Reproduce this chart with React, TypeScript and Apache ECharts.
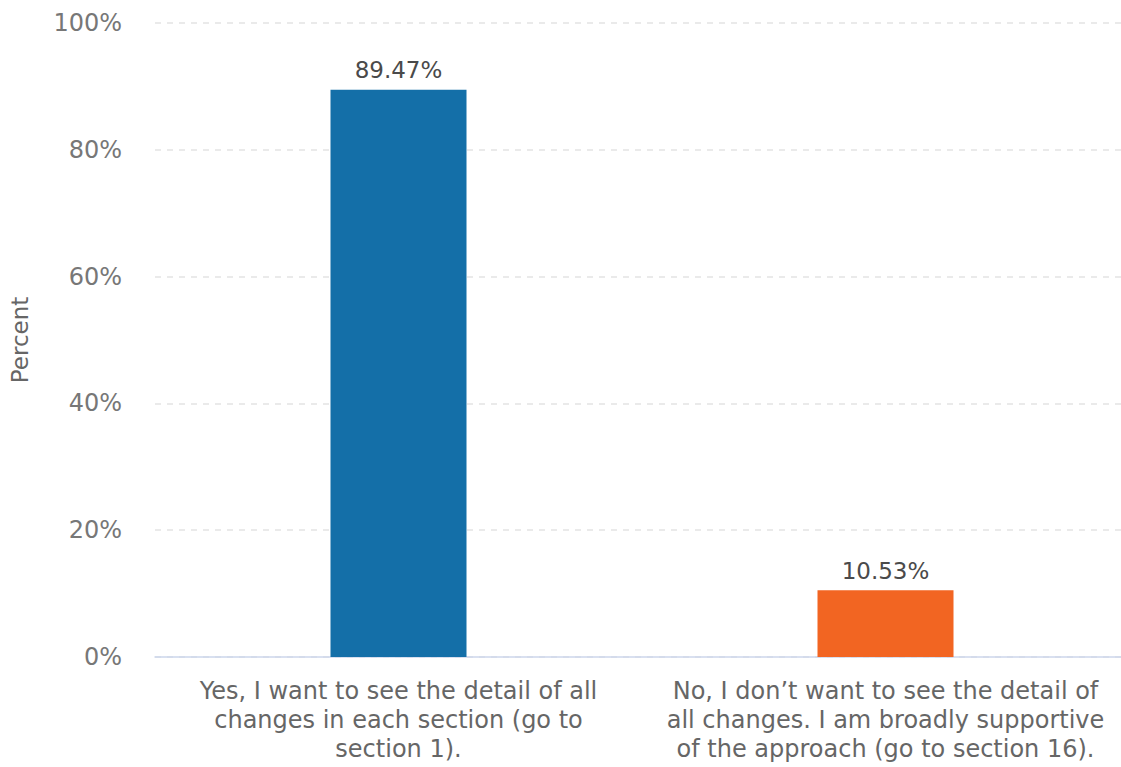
import React, { useEffect, useRef } from "react";
import * as echarts from "echarts";

const categories = [
  "Yes, I want to see the detail of all\nchanges in each section (go to\nsection 1).",
  "No, I don’t want to see the detail of\nall changes. I am broadly supportive\nof the approach (go to section 16).",
];
const values = [89.47, 10.53];
const barColors = ["#146fa8", "#f26522"];
const yTicks = [0, 20, 40, 60, 80, 100];

export default function App() {
  const ref = useRef<HTMLDivElement>(null);
  useEffect(() => {
    const chart = echarts.init(ref.current!, null, { renderer: "svg" });
    chart.setOption({
      animation: false,
      textStyle: { fontFamily: "DejaVu Sans" },
      grid: { left: 145, width: 984, top: 23, bottom: 110, containLabel: false },
      xAxis: {
        type: "category",
        data: categories,
        axisLine: { lineStyle: { color: "#ccd6eb", width: 1.5 } },
        axisTick: { show: false },
        axisLabel: {
          color: "#666",
          fontSize: 24,
          lineHeight: 29,
          margin: 19,
          interval: 0,
          fontFamily: "DejaVu Sans",
        },
      },
      yAxis: {
        type: "value",
        min: yTicks[0],
        max: yTicks[yTicks.length - 1],
        interval: 20,
        name: "Percent",
        nameLocation: "middle",
        nameGap: 124,
        nameTextStyle: { color: "#666", fontSize: 23, fontFamily: "DejaVu Sans" },
        axisLabel: {
          formatter: "{value}%",
          color: "#777",
          fontSize: 24,
          margin: 33,
          fontFamily: "DejaVu Sans",
        },
        splitLine: { lineStyle: { color: "#e3e3e3", type: [6, 6], width: 1.5 } },
        axisLine: { show: false },
        axisTick: { show: false },
      },
      series: [
        {
          type: "bar",
          barWidth: 136,
          data: values.map((v, i) => ({ value: v, itemStyle: { color: barColors[i] } })),
          label: {
            show: true,
            position: "top",
            distance: 8,
            formatter: (p: any) => p.value.toFixed(2) + "%",
            color: "#4a4a4a",
            fontSize: 23,
            fontFamily: "DejaVu Sans",
          },
        },
      ],
    });
    return () => chart.dispose();
  }, []);
  return (
    <div
      style={{ position: "absolute", left: 0, top: 0, width: 1121, height: 767, overflow: "hidden" }}
    >
      <div ref={ref} style={{ width: 1140, height: 767 }} />
    </div>
  );
}
